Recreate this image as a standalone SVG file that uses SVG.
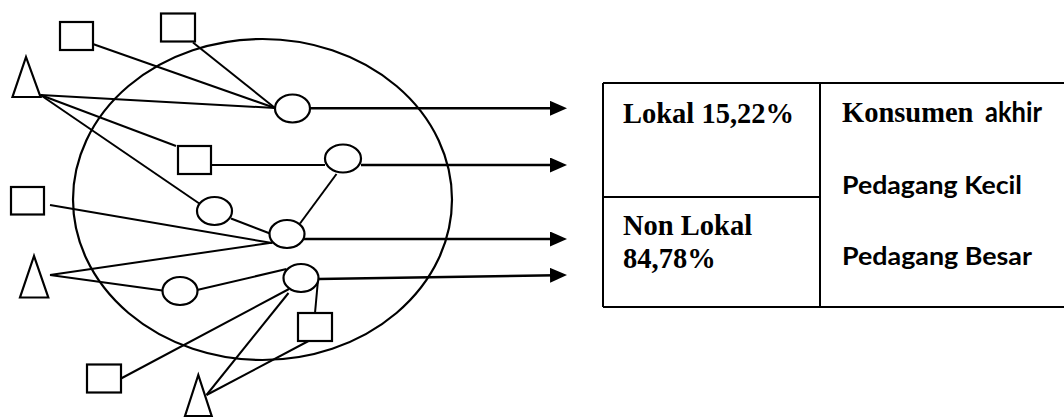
<svg xmlns="http://www.w3.org/2000/svg" width="1064" height="417" viewBox="0 0 1064 417">
  <style>
    .shape { fill: #fff; stroke: #000; stroke-width: 2.2; }
    .link { fill: none; stroke: #000; stroke-width: 2; }
    .flow { fill: none; stroke: #000; stroke-width: 2.5; marker-end: url(#head); }
    .grid { fill: none; stroke: #000; stroke-width: 2; }
    .serif { font-family: "Liberation Serif", "Times New Roman", serif; font-weight: bold; font-size: 28.5px; fill: #000; }
    .sans { font-family: Lato, "Liberation Sans", sans-serif; font-weight: bold; font-size: 25px; fill: #000; }
  </style>
  <defs>
    <marker id="head" markerUnits="userSpaceOnUse" markerWidth="17" markerHeight="15" refX="6" refY="7.5" orient="auto">
      <path d="M0,0 L17,7.5 L0,15 Z" fill="#000"/>
    </marker>
  </defs>

  <rect width="1064" height="417" fill="#fff"/>

  <!-- market area -->
  <ellipse id="area" cx="262.5" cy="199.5" rx="189.5" ry="160.5" fill="none" stroke="#000" stroke-width="2.2"/>

  <!-- connectors -->
  <g id="connectors">
    <line class="link" x1="90" y1="43" x2="275" y2="108"/>
    <line class="link" x1="193" y1="42.5" x2="275" y2="108"/>
    <line class="link" x1="40.5" y1="95" x2="275" y2="108"/>
    <line class="link" x1="40.5" y1="95" x2="176" y2="146"/>
    <line class="link" x1="40.5" y1="95" x2="200" y2="204"/>
    <line class="link" x1="211" y1="165" x2="325" y2="165"/>
    <line class="link" x1="336.5" y1="174" x2="300" y2="223.5"/>
    <line class="link" x1="50" y1="205" x2="272" y2="243"/>
    <line class="link" x1="231" y1="218.5" x2="270" y2="233.5"/>
    <line class="link" x1="50" y1="275" x2="273" y2="242.5"/>
    <line class="link" x1="50" y1="275" x2="162.5" y2="290.5"/>
    <line class="link" x1="197" y1="290" x2="286.5" y2="269"/>
    <line class="link" x1="318" y1="280" x2="315" y2="313"/>
    <line class="link" x1="121" y1="378.5" x2="289" y2="289"/>
    <line class="link" x1="206.5" y1="395" x2="288.5" y2="293"/>
    <line class="link" x1="206.5" y1="395" x2="308.5" y2="341"/>

    <line class="flow" x1="310" y1="108.3" x2="556" y2="108.3"/>
    <line class="flow" x1="361" y1="165" x2="556" y2="165"/>
    <line class="flow" x1="304" y1="239" x2="556" y2="239"/>
    <line class="flow" x1="318.5" y1="279" x2="556" y2="275.2"/>
  </g>

  <!-- producers (squares) -->
  <g id="s1"><rect class="shape" x="60" y="22" width="33" height="28"/></g>
  <g id="s2"><rect class="shape" x="161" y="13.5" width="34" height="28"/></g>
  <g id="s3"><rect class="shape" x="178" y="146" width="33" height="28"/></g>
  <g id="s4"><rect class="shape" x="11" y="187" width="33" height="27.5"/></g>
  <g id="s5"><rect class="shape" x="298" y="313" width="34" height="28"/></g>
  <g id="s6"><rect class="shape" x="87" y="364.5" width="34" height="28"/></g>

  <!-- collectors (triangles) -->
  <g id="t1"><polygon class="shape" points="26,57 12.5,97 40.5,97"/></g>
  <g id="t2"><polygon class="shape" points="34,256 20,297.5 48.3,297.5"/></g>
  <g id="t3"><polygon class="shape" points="198.3,375 185,416 211.7,416"/></g>

  <!-- traders (ellipses) -->
  <g id="e1"><ellipse class="shape" cx="292.5" cy="108.5" rx="17.5" ry="14"/></g>
  <g id="e2"><ellipse class="shape" cx="343" cy="158.5" rx="18" ry="14"/></g>
  <g id="e3"><ellipse class="shape" cx="214.5" cy="211" rx="17.5" ry="14"/></g>
  <g id="e4"><ellipse class="shape" cx="287" cy="234" rx="17.5" ry="14"/></g>
  <g id="e5"><ellipse class="shape" cx="301" cy="278" rx="17.5" ry="14"/></g>
  <g id="e6"><ellipse class="shape" cx="180" cy="291" rx="17.5" ry="14"/></g>

  <!-- destination table -->
  <g id="table">
    <path class="grid" d="M603,83 H1066 M603,307 H1066 M603,83 V307 M820,83 V307 M603,197 H820"/>
    <text class="serif" x="623" y="123">Lokal 15,22%</text>
    <text class="serif" x="623" y="235">Non Lokal</text>
    <text class="serif" x="623" y="268">84,78%</text>
    <text class="serif" x="842" y="122">Konsumen</text>
    <text class="sans" x="985" y="122" font-size="28" textLength="57" lengthAdjust="spacingAndGlyphs" style="font-size:28px">akhir</text>
    <text class="sans" x="842" y="194" textLength="180" lengthAdjust="spacingAndGlyphs">Pedagang Kecil</text>
    <text class="sans" x="842" y="264.5" textLength="190" lengthAdjust="spacingAndGlyphs">Pedagang Besar</text>
  </g>
</svg>
